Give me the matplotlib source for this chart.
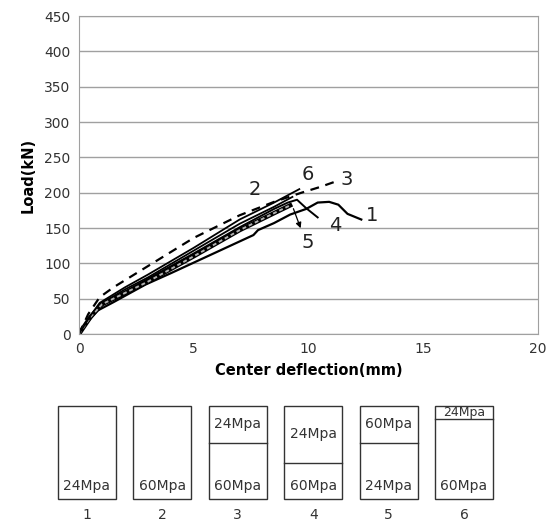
import matplotlib.pyplot as plt
from matplotlib.patches import Rectangle

# load-deflection curves (mm, kN)
d1 = [0, 0.4, 0.8, 1.5, 2.9, 4.0, 5.0, 6.0, 7.6, 7.8, 8.5, 9.2, 9.9, 10.4, 10.9, 11.3, 11.7, 12.3]
p1 = [0, 18, 33, 45, 70, 86, 101, 116, 140, 147, 157, 169, 177, 186, 187, 183, 170, 162]
d2 = [0, 0.5, 0.9, 2.0, 3.0, 5.0, 7.0, 8.5, 9.3]
p2 = [0, 25, 42, 63, 80, 118, 156, 180, 194]
d3 = [0, 0.4, 0.9, 1.5, 3.0, 5.0, 7.0, 8.5, 9.7, 10.5, 11.2]
p3 = [0, 28, 52, 66, 96, 136, 168, 187, 200, 208, 216]
d4 = [0, 0.5, 0.9, 2.0, 3.0, 5.0, 7.0, 8.5, 9.1, 9.5, 9.9, 10.4]
p4 = [0, 24, 40, 60, 78, 114, 151, 177, 186, 190, 178, 165]
d5 = [0, 0.5, 1.0, 2.0, 3.0, 5.0, 7.0, 8.5, 9.2]
p5 = [0, 24, 42, 58, 74, 110, 147, 171, 182]
d6 = [0, 0.5, 0.9, 2.0, 3.0, 5.0, 7.0, 8.5, 9.6]
p6 = [0, 26, 44, 66, 84, 122, 162, 186, 205]

# curve number labels
lab_txt = ["1", "2", "3", "4", "5", "6"]
lab_x = [12.5, 7.4, 11.4, 10.9, 9.7, 9.7]
lab_y = [168, 204, 218, 154, 130, 226]

# specimen sections: top layer, bottom layer, split (fraction from top, None = single)
sec_top = ["", "", "24Mpa", "24Mpa", "60Mpa", "24Mpa"]
sec_bot = ["24Mpa", "60Mpa", "60Mpa", "60Mpa", "24Mpa", "60Mpa"]
sec_split = [None, None, 0.40, 0.61, 0.40, 0.14]

fig = plt.figure(figsize=(5.53, 5.22), dpi=100)
W, H = 553, 522
ax = fig.add_axes([79 / W, 1 - 334 / H, (538 - 79) / W, (334 - 16) / H])

ax.plot(d1, p1, color="black", lw=1.6)
ax.plot(d2, p2, color="black", lw=1.3)
ax.plot(d3, p3, color="black", lw=1.6, ls=(0, (4, 3)))
ax.plot(d4, p4, color="black", lw=1.4)
ax.plot(d5, p5, color="black", lw=3.2)
ax.plot(d5, p5, color="#b0b0b0", lw=1.4, ls=(0, (2, 1.5)))
ax.plot(d6, p6, color="black", lw=1.3)

for t, x, y in zip(lab_txt, lab_x, lab_y):
    ax.text(x, y, t, fontsize=14, ha="left", va="center", color="#222222")
ax.annotate("", xy=(9.7, 146), xytext=(9.3, 181),
            arrowprops=dict(arrowstyle="-|>", color="black", lw=0.9, mutation_scale=8))

ax.set_xlim(0, 20)
ax.set_ylim(0, 450)
ax.set_xticks(range(0, 21, 5))
ax.set_yticks(range(0, 451, 50))
ax.grid(axis="y", color="#a0a0a0", lw=1)
ax.set_axisbelow(True)
for s in ax.spines.values():
    s.set_color("#a0a0a0")
ax.tick_params(length=0, labelsize=10, colors="#333333", pad=6)
ax.set_xlabel("Center deflection(mm)", fontsize=10.5, fontweight="bold", labelpad=5)
ax.set_ylabel("Load(kN)", fontsize=10.5, fontweight="bold", labelpad=6)

# section sketches underneath
bx = fig.add_axes([0, 0, 1, 1])
bx.set_xlim(0, W)
bx.set_ylim(H, 0)
bx.axis("off")
top, h, w = 405.7, 93.3, 58
for i in range(6):
    x0 = 58 + i * 75.4
    bx.add_patch(Rectangle((x0, top), w, h, fill=False, ec="#333333", lw=1))
    bx.text(x0 + w / 2, top + h - 13, sec_bot[i], ha="center", va="center", fontsize=10, color="#333333")
    if sec_split[i] is not None:
        ys = top + sec_split[i] * h
        bx.plot([x0, x0 + w], [ys, ys], color="#333333", lw=1)
        fs = 9 if sec_split[i] < 0.2 else 10
        bx.text(x0 + w / 2, (top + ys) / 2, sec_top[i], ha="center", va="center", fontsize=fs, color="#333333")
    bx.text(x0 + w / 2, 515, str(i + 1), ha="center", va="center", fontsize=10, color="#333333")

fig.savefig("out.png", dpi=100)
